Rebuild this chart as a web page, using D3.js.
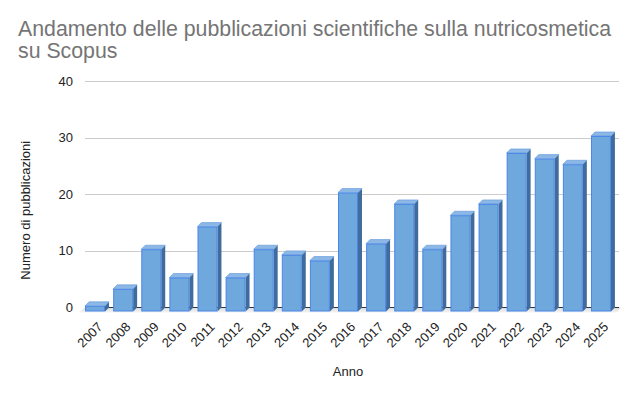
<!DOCTYPE html>
<html>
<head>
<meta charset="utf-8">
<script src="https://cdn.jsdelivr.net/npm/d3@7"></script>
<style>
  body { margin: 0; background: #fff; }
  text { font-family: "Liberation Sans", Arial, sans-serif; }
</style>
</head>
<body>
<div id="chart"></div>
<script>
const years = ["2007","2008","2009","2010","2011","2012","2013","2014","2015","2016",
               "2017","2018","2019","2020","2021","2022","2023","2024","2025"];
const counts = [1, 4, 11, 6, 15, 6, 11, 10, 9, 21, 12, 19, 11, 17, 19, 28, 27, 26, 31];
const yTicks = [0, 10, 20, 30, 40];
const titleLines = ["Andamento delle pubblicazioni scientifiche sulla nutricosmetica", "su Scopus"];

const width = 640, height = 396;
const margin = { top: 81, right: 21, bottom: 89, left: 85 };
const depth = 4; // 3d offset

const svg = d3.select("#chart").append("svg")
    .attr("width", width)
    .attr("height", height);

const x = d3.scaleBand()
    .domain(years)
    .range([margin.left, width - margin.right])
    .paddingInner(0.29)
    .paddingOuter(0.145);

const y = d3.scaleLinear()
    .domain([0, 40])
    .range([height - margin.bottom + 0.5, margin.top]);

// title
svg.append("text")
    .attr("x", 18)
    .attr("y", 36)
    .attr("fill", "#757575")
    .style("font-size", "21.3px")
    .selectAll("tspan")
    .data(titleLines)
    .join("tspan")
    .attr("x", 18)
    .attr("dy", (d, i) => i === 0 ? 0 : 22)
    .text(d => d);

// gridlines
svg.append("g")
    .selectAll("line")
    .data(yTicks.filter(d => d > 0))
    .join("line")
    .attr("x1", margin.left)
    .attr("x2", width - margin.right)
    .attr("y1", d => Math.round(y(d)) + 0.5)
    .attr("y2", d => Math.round(y(d)) + 0.5)
    .attr("stroke", "#cccccc")
    .attr("stroke-width", 1);

// y tick labels
svg.append("g")
    .selectAll("text")
    .data(yTicks)
    .join("text")
    .attr("x", 73)
    .attr("y", d => y(d))
    .attr("dy", "0.35em")
    .attr("text-anchor", "end")
    .attr("fill", "#222")
    .style("font-size", "13px")
    .text(d => d);

// floor
const defs = svg.append("defs");
const grad = defs.append("linearGradient")
    .attr("id", "floor")
    .attr("x1", 0).attr("x2", 0).attr("y1", 0).attr("y2", 1);
grad.append("stop").attr("offset", "0%").attr("stop-color", "#dcdcdc");
grad.append("stop").attr("offset", "100%").attr("stop-color", "#f4f4f4");

const y0 = y(0);
const x0 = margin.left, x1 = width - margin.right;
svg.append("path")
    .attr("d", `M${x0},${y0} L${x1 + 2},${y0} L${x1 - depth + 2},${y0 + depth + 1} L${x0 - depth - 2},${y0 + depth + 1} Z`)
    .attr("fill", "url(#floor)");

svg.append("line")
    .attr("x1", x0)
    .attr("x2", x1)
    .attr("y1", y0)
    .attr("y2", y0)
    .attr("stroke", "#333")
    .attr("stroke-width", 1);

// bars
const data = years.map((yr, i) => ({ year: yr, value: counts[i] }));
const bars = svg.append("g")
    .selectAll("g")
    .data(data)
    .join("g");

// side face
bars.append("path")
    .attr("d", d => {
        const bx = x(d.year) + x.bandwidth(), top = y(d.value);
        return `M${bx - depth},${top + depth} L${bx},${top} L${bx},${y0} L${bx - depth},${y0 + depth} Z`;
    })
    .attr("fill", "#3f6c9c");

// top face
bars.append("path")
    .attr("d", d => {
        const bx = x(d.year), w = x.bandwidth(), top = y(d.value);
        return `M${bx - depth},${top + depth} L${bx},${top} L${bx + w},${top} L${bx + w - depth},${top + depth} Z`;
    })
    .attr("fill", "#8db8e6")
    .attr("stroke", "#5b93dc")
    .attr("stroke-width", 0.6);

// front face
bars.append("rect")
    .attr("x", d => x(d.year) - depth + 0.5)
    .attr("y", d => y(d.value) + depth + 0.5)
    .attr("width", x.bandwidth() - 1)
    .attr("height", d => Math.max(0, y0 - y(d.value) - 1))
    .attr("fill", "#6fa8dc")
    .attr("stroke", "#4a86e8")
    .attr("stroke-width", 1);

// x labels
svg.append("g")
    .selectAll("text")
    .data(years)
    .join("text")
    .attr("transform", d => `translate(${x(d) + x.bandwidth() / 2 + 1},${y0 + 17}) rotate(-45)`)
    .attr("text-anchor", "end")
    .attr("dy", "0.35em")
    .attr("fill", "#222")
    .style("font-size", "13px")
    .text(d => d);

// axis titles
svg.append("text")
    .attr("x", 348)
    .attr("y", 376)
    .attr("text-anchor", "middle")
    .attr("fill", "#222")
    .style("font-size", "13px")
    .text("Anno");

svg.append("text")
    .attr("transform", `translate(30,${(margin.top + y0) / 2 + 16}) rotate(-90)`)
    .attr("text-anchor", "middle")
    .attr("fill", "#222")
    .style("font-size", "13px")
    .text("Numero di pubblicazioni");
</script>
</body>
</html>
